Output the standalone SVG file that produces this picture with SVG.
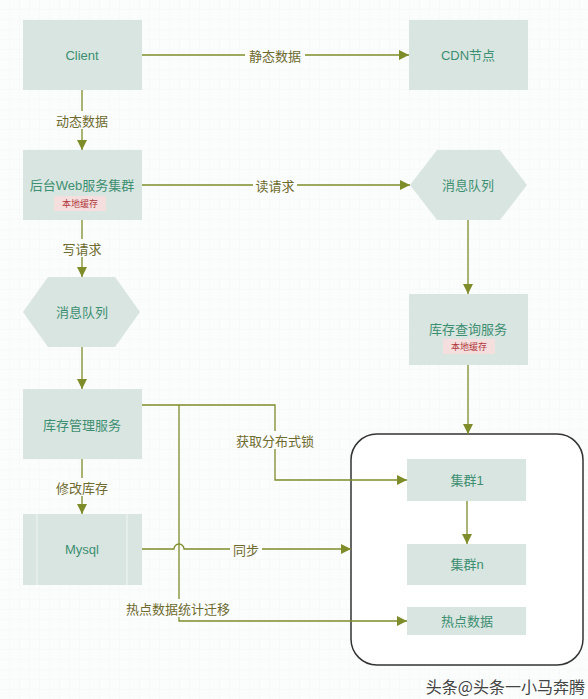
<svg xmlns="http://www.w3.org/2000/svg" width="588" height="699" viewBox="0 0 588 699">
<defs>
<pattern id="grid" width="10" height="10" patternUnits="userSpaceOnUse">
<path d="M10 0 V10 M0 10 H10" fill="none" stroke="#f0f4f2" stroke-width="0.6"/>
</pattern>
<marker id="arr" viewBox="0 0 10 10" refX="10" refY="5" markerWidth="10" markerHeight="10" markerUnits="userSpaceOnUse" orient="auto">
<path d="M0 0 L10 5 L0 10 Z" fill="#7f8c2a"/>
</marker>
<style>
.node{fill:#d9e5e0}
.nt{font-family:"Liberation Sans","Noto Sans CJK SC",sans-serif;font-size:13px;fill:#3d8f72;text-anchor:middle;dominant-baseline:central}
.badge{fill:#f5dede}
.bt{font-family:"Noto Sans CJK SC",sans-serif;font-size:9px;fill:#b0383c;text-anchor:middle;dominant-baseline:central}
.ln{fill:none;stroke:#7f8c2a;stroke-width:1.3}
.lb{font-family:"Noto Sans CJK SC",sans-serif;font-size:13px;fill:#6e6a2e;text-anchor:middle;dominant-baseline:central}
.lbbg{fill:#fbfdfc}
</style>
</defs>
<rect width="588" height="699" fill="#fbfdfc"/>
<rect width="588" height="699" fill="url(#grid)"/>

<g id="container">
<rect x="351" y="434" width="232" height="231" rx="26" fill="#ffffff" stroke="#333333" stroke-width="1.5"/>
</g>

<g id="connectors">
<line class="ln" x1="142" y1="55" x2="409" y2="55" marker-end="url(#arr)"/>
<line class="ln" x1="82" y1="90" x2="82" y2="150" marker-end="url(#arr)"/>
<line class="ln" x1="142" y1="185" x2="410" y2="185" marker-end="url(#arr)"/>
<line class="ln" x1="82" y1="220" x2="82" y2="277" marker-end="url(#arr)"/>
<line class="ln" x1="468" y1="220" x2="468" y2="294" marker-end="url(#arr)"/>
<line class="ln" x1="82" y1="347" x2="82" y2="389" marker-end="url(#arr)"/>
<line class="ln" x1="468" y1="365" x2="468" y2="434" marker-end="url(#arr)"/>
<polyline class="ln" points="142,405 275,405 275,480 407,480" marker-end="url(#arr)"/>
<polyline class="ln" points="179,405 179,621 407,621" marker-end="url(#arr)"/>
<line class="ln" x1="82" y1="459" x2="82" y2="514" marker-end="url(#arr)"/>
<path class="ln" d="M142 549 H174 A5 5 0 0 1 184 549 H351" marker-end="url(#arr)"/>
<line class="ln" x1="467" y1="501" x2="467" y2="544" marker-end="url(#arr)"/>
<rect class="lbbg" x="245" y="46" width="60" height="18"/>
<text class="lb" x="275" y="55">静态数据</text>
<rect class="lbbg" x="52" y="111" width="60" height="18"/>
<text class="lb" x="82" y="120">动态数据</text>
<rect class="lbbg" x="253" y="176" width="44" height="18"/>
<text class="lb" x="275" y="185">读请求</text>
<rect class="lbbg" x="60" y="239" width="44" height="18"/>
<text class="lb" x="82" y="248">写请求</text>
<rect class="lbbg" x="233" y="431" width="84" height="18"/>
<text class="lb" x="275" y="440">获取分布式锁</text>
<rect class="lbbg" x="52" y="478" width="60" height="18"/>
<text class="lb" x="82" y="487">修改库存</text>
<rect class="lbbg" x="230" y="540" width="32" height="18"/>
<text class="lb" x="246" y="549">同步</text>
<rect class="lbbg" x="124" y="599" width="108" height="18"/>
<text class="lb" x="178" y="608">热点数据统计迁移</text>
</g>

<g id="client">
<rect class="node" x="23" y="20" width="119" height="70"/>
<text class="nt" x="82" y="55">Client</text>
</g>
<g id="cdn">
<rect class="node" x="409" y="20" width="119" height="70"/>
<text class="nt" x="468" y="55">CDN节点</text>
</g>
<g id="web">
<rect class="node" x="23" y="150" width="119" height="70"/>
<text class="nt" x="82" y="185">后台Web服务集群</text>
<rect class="badge" x="54" y="196" width="52" height="15"/>
<text class="bt" x="80" y="203.5">本地缓存</text>
</g>
<g id="mq-read">
<polygon class="node" points="410,185 437,150 500,150 527,185 500,220 437,220"/>
<text class="nt" x="468" y="185">消息队列</text>
</g>
<g id="mq-write">
<polygon class="node" points="23,312 48,277 115,277 140,312 115,347 48,347"/>
<text class="nt" x="82" y="312">消息队列</text>
</g>
<g id="query">
<rect class="node" x="409" y="294" width="119" height="71"/>
<text class="nt" x="468" y="329">库存查询服务</text>
<rect class="badge" x="443" y="339" width="52" height="15"/>
<text class="bt" x="469" y="346.5">本地缓存</text>
</g>
<g id="manage">
<rect class="node" x="23" y="389" width="119" height="70"/>
<text class="nt" x="82" y="425">库存管理服务</text>
</g>
<g id="mysql">
<rect class="node" x="23" y="514" width="119" height="71"/>
<line x1="37" y1="514" x2="37" y2="585" stroke="#f2f6f4" stroke-width="1"/>
<line x1="127" y1="514" x2="127" y2="585" stroke="#f2f6f4" stroke-width="1"/>
<text class="nt" x="82" y="549" fill="#5a8f8a">Mysql</text>
</g>
<g id="cluster1">
<rect class="node" x="407" y="459" width="119" height="42"/>
<text class="nt" x="467" y="480">集群1</text>
</g>
<g id="clustern">
<rect class="node" x="407" y="544" width="119" height="41"/>
<text class="nt" x="467" y="564">集群n</text>
</g>
<g id="hot">
<rect class="node" x="407" y="607" width="119" height="28"/>
<text class="nt" x="467" y="621">热点数据</text>
</g>
<text x="585" y="686" font-family="Noto Sans CJK SC,sans-serif" font-size="16" fill="#444444" text-anchor="end" dominant-baseline="central">头条@头条一小马奔腾</text>
</svg>
